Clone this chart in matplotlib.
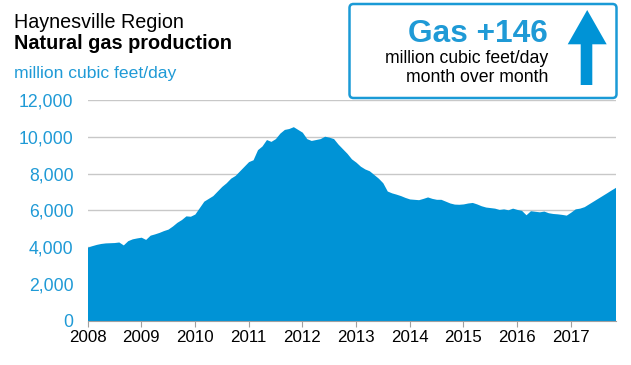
import numpy as np
import matplotlib
matplotlib.use("Agg")
import matplotlib.pyplot as plt
from matplotlib.patches import FancyBboxPatch, Polygon
from matplotlib.transforms import IdentityTransform
from matplotlib.ticker import FuncFormatter

plt.rcParams['font.family'] = ['Liberation Sans', 'DejaVu Sans']

# Monthly production, million cubic feet/day, Jan 2008 - Nov 2017
prod_2008 = [4000, 4080, 4150, 4200, 4230, 4240, 4250, 4280, 4120, 4350, 4450, 4500]
prod_2009 = [4540, 4420, 4650, 4720, 4800, 4900, 4980, 5150, 5350, 5500, 5700, 5680]
prod_2010 = [5800, 6150, 6500, 6650, 6800, 7050, 7300, 7500, 7750, 7900, 8150, 8400]
prod_2011 = [8650, 8750, 9300, 9500, 9850, 9750, 9900, 10200, 10400, 10450, 10550, 10400]
prod_2012 = [10250, 9900, 9800, 9850, 9900, 10030, 9980, 9900, 9600, 9350, 9100, 8800]
prod_2013 = [8620, 8400, 8250, 8150, 7950, 7750, 7500, 7050, 6950, 6880, 6800, 6700]
prod_2014 = [6620, 6600, 6580, 6650, 6730, 6650, 6600, 6600, 6500, 6400, 6340, 6330]
prod_2015 = [6350, 6400, 6430, 6350, 6250, 6180, 6150, 6120, 6050, 6080, 6030, 6120]
prod_2016 = [6050, 6000, 5760, 5980, 5950, 5920, 5960, 5870, 5830, 5810, 5780, 5740]
prod_2017 = [5900, 6080, 6120, 6200, 6350, 6500, 6650, 6800, 6950, 7104, 7250]

start_year = 2008
year_ticks = list(range(2008, 2018))
y_ticks = [0, 2000, 4000, 6000, 8000, 10000, 12000]

values = np.array(prod_2008 + prod_2009 + prod_2010 + prod_2011 + prod_2012 +
                  prod_2013 + prod_2014 + prod_2015 + prod_2016 + prod_2017)
t = start_year + np.arange(len(values)) / 12.0

BLUE = '#0093D6'
LABEL_BLUE = '#1F9AD6'

W, H = 631, 365
fig = plt.figure(figsize=(W / 100, H / 100), dpi=100)

left, right = 87.5 / W, 615.5 / W
bottom, top = 1 - 320.7 / H, 1 - 100 / H
ax = fig.add_axes([left, bottom, right - left, top - bottom])

ax.fill_between(t, 0, values, color=BLUE, lw=0, zorder=2)
ax.set_xlim(t[0], t[-1])
ax.set_ylim(0, 12000)
ax.set_yticks(y_ticks)
ax.set_xticks(year_ticks)
ax.yaxis.set_major_formatter(FuncFormatter(lambda v, p: f"{int(v):,}"))
for s in ['top', 'right', 'left']:
    ax.spines[s].set_visible(False)
ax.spines['bottom'].set_color('#A0A0A0')
ax.spines['bottom'].set_linewidth(0.8)
ax.grid(axis='y', color='#C8C8C8', lw=1.0, zorder=0)
ax.set_axisbelow(True)
ax.tick_params(axis='y', length=0, pad=10, labelsize=12.7, labelcolor=LABEL_BLUE)
ax.tick_params(axis='x', length=4, color='#A0A0A0', width=0.8, pad=3,
               labelsize=12.2, labelcolor='black')

# Titles
fig.text(14 / W, 1 - 28 / H, "Haynesville Region", fontsize=14.2, color='black',
         ha='left', va='baseline')
fig.text(14 / W, 1 - 49 / H, "Natural gas production", fontsize=14.3,
         fontweight='bold', color='black', ha='left', va='baseline')
fig.text(14 / W, 1 - 78 / H, "million cubic feet/day", fontsize=12.6, color=LABEL_BLUE,
         ha='left', va='baseline')

# Callout box (pixel coordinates, origin bottom-left)
ident = IdentityTransform()
bx0, bx1 = 349.5, 616.5
by0, by1 = H - 98, H - 4
box = FancyBboxPatch((bx0, by0), bx1 - bx0, by1 - by0,
                     boxstyle="round,pad=0,rounding_size=4",
                     transform=ident, fill=False, ec='#1A9AD6', lw=1.8)
fig.patches.append(box)

fig.text(548 / W, 1 - 41.7 / H, "Gas +146", fontsize=22.8, fontweight='bold',
         color=LABEL_BLUE, ha='right', va='baseline')
fig.text(548 / W, 1 - 63.3 / H, "million cubic feet/day", fontsize=12.7,
         color='black', ha='right', va='baseline')
fig.text(548 / W, 1 - 81.7 / H, "month over month", fontsize=12.7,
         color='black', ha='right', va='baseline')

# Up arrow
ax_l, ax_r = 567.7, 606.7
sh_l, sh_r = 580.7, 592.3
tip_y = H - 10
head_y = H - 44.3
bot_y = H - 85
arrow = Polygon([(sh_l, bot_y), (sh_r, bot_y), (sh_r, head_y), (ax_r, head_y),
                 ((ax_l + ax_r) / 2, tip_y), (ax_l, head_y), (sh_l, head_y)],
                closed=True, transform=ident, fc=BLUE, ec='none')
fig.patches.append(arrow)

fig.savefig("out.png", dpi=100)
